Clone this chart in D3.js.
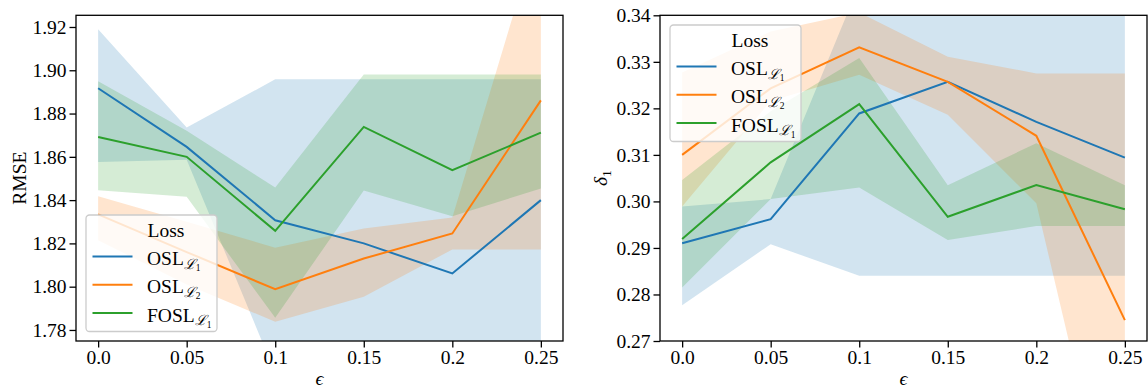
<!DOCTYPE html>
<html><head><meta charset="utf-8">
<script src="https://cdn.jsdelivr.net/npm/d3@7"></script>
<style>
body{margin:0;background:#fff}
svg{display:block}
text{font-family:"Liberation Serif","Times New Roman",serif;fill:#000}
</style>
</head><body>
<svg id="chart" width="1148" height="389"></svg>
<script>
// ---------- data ----------
const eps = [0, 0.05, 0.1, 0.15, 0.2, 0.25];
const xTickLabels = ["0.0", "0.05", "0.1", "0.15", "0.2", "0.25"];
const seriesBase = ["OSL", "OSL", "FOSL"];
const seriesSub = ["1", "2", "1"];
const colors = ["#1f77b4", "#ff7f0e", "#2ca02c"];

// Left panel: RMSE
const rmseTicks = [1.78, 1.80, 1.82, 1.84, 1.86, 1.88, 1.90, 1.92];
const rmseOSL1 = [1.8917, 1.8646, 1.8307, 1.8200, 1.8061, 1.8400];
const rmseOSL1Up = [1.9190, 1.8735, 1.8958, 1.8958, 1.8958, 1.8958];
const rmseOSL1Lo = [1.8576, 1.8587, 1.7600, 1.7450, 1.7160, 1.7600];
const rmseOSL2 = [1.8334, 1.8160, 1.7988, 1.8130, 1.8246, 1.8861];
const rmseOSL2Up = [1.8418, 1.8300, 1.8180, 1.8269, 1.8320, 1.9680];
const rmseOSL2Lo = [1.8215, 1.8010, 1.7838, 1.7953, 1.8172, 1.8172];
const rmseFOSL1 = [1.8692, 1.8600, 1.8258, 1.8738, 1.8538, 1.8712];
const rmseFOSL1Up = [1.8949, 1.8720, 1.8458, 1.8981, 1.8981, 1.8981];
const rmseFOSL1Lo = [1.8446, 1.8415, 1.7856, 1.8445, 1.8325, 1.8454];

// Right panel: delta_1
const deltaTicks = [0.27, 0.28, 0.29, 0.30, 0.31, 0.32, 0.33, 0.34];
const dOSL1 = [0.2910, 0.2962, 0.3189, 0.3257, 0.3171, 0.3094];
const dOSL1Up = [0.2989, 0.3005, 0.3466, 0.3500, 0.3500, 0.3500];
const dOSL1Lo = [0.2777, 0.2908, 0.2840, 0.2840, 0.2840, 0.2840];
const dOSL2 = [0.3100, 0.3243, 0.3331, 0.3257, 0.3141, 0.2745];
const dOSL2Up = [0.3277, 0.3365, 0.3406, 0.3311, 0.3275, 0.3275];
const dOSL2Lo = [0.2989, 0.3216, 0.3272, 0.3186, 0.2996, 0.2190];
const dFOSL1 = [0.2919, 0.3084, 0.3209, 0.2967, 0.3035, 0.2983];
const dFOSL1Up = [0.3046, 0.3194, 0.3308, 0.3035, 0.3125, 0.3035];
const dFOSL1Lo = [0.2815, 0.3005, 0.3030, 0.2917, 0.2947, 0.2947];

// ---------- drawing ----------
const svg = d3.select("#chart");
const FS = 19.5;
const plotTop = 15.3, plotBottom = 341;

const panels = [
  {id: "L", x0: 76, x1: 563, yDomain: [1.7749, 1.9254], ticks: rmseTicks, fmt: d3.format(".2f"),
   means: [rmseOSL1, rmseOSL2, rmseFOSL1], ups: [rmseOSL1Up, rmseOSL2Up, rmseFOSL1Up], los: [rmseOSL1Lo, rmseOSL2Lo, rmseFOSL1Lo],
   ylabel: "RMSE", ylabelX: 26, legend: {x: 86, y: 215}},
  {id: "R", x0: 660, x1: 1147, yDomain: [0.27, 0.34], ticks: deltaTicks, fmt: d3.format(".2f"),
   means: [dOSL1, dOSL2, dFOSL1], ups: [dOSL1Up, dOSL2Up, dFOSL1Up], los: [dOSL1Lo, dOSL2Lo, dFOSL1Lo],
   ylabel: "δ", ylabelSub: "1", ylabelX: 607, legend: {x: 670, y: 25}}
];

const defs = svg.append("defs");

panels.forEach(p => {
  const x = d3.scaleLinear().domain([-0.0125, 0.2625]).range([p.x0, p.x1]);
  const y = d3.scaleLinear().domain(p.yDomain).range([plotBottom, plotTop]);

  defs.append("clipPath").attr("id", "clip" + p.id)
    .append("rect").attr("x", p.x0).attr("y", plotTop).attr("width", p.x1 - p.x0).attr("height", plotBottom - plotTop);

  const plot = svg.append("g").attr("clip-path", `url(#clip${p.id})`);

  // bands
  p.means.forEach((m, s) => {
    const area = d3.area()
      .x((d, i) => x(eps[i]))
      .y0((d, i) => y(p.los[s][i]))
      .y1((d, i) => y(p.ups[s][i]));
    plot.append("path").datum(m).attr("d", area)
      .attr("fill", colors[s]).attr("fill-opacity", 0.2).attr("stroke", "none");
  });
  // lines
  p.means.forEach((m, s) => {
    const line = d3.line().x((d, i) => x(eps[i])).y(d => y(d));
    plot.append("path").datum(m).attr("d", line)
      .attr("fill", "none").attr("stroke", colors[s]).attr("stroke-width", 2).attr("stroke-linejoin", "miter");
  });

  // axes
  const xAxis = svg.append("g").attr("transform", `translate(0,${plotBottom})`)
    .call(d3.axisBottom(x).tickValues(eps).tickFormat((d, i) => xTickLabels[i]).tickSize(6.5).tickPadding(3).tickSizeOuter(0));
  const yAxis = svg.append("g").attr("transform", `translate(${p.x0},0)`)
    .call(d3.axisLeft(y).tickValues(p.ticks).tickFormat(p.fmt).tickSize(6.5).tickPadding(3).tickSizeOuter(0));
  [xAxis, yAxis].forEach(a => {
    a.attr("font-family", null).attr("font-size", null);
    a.select(".domain").remove();
    a.selectAll(".tick line").attr("stroke", "#000").attr("stroke-width", 1.3);
    a.selectAll(".tick text").style("font-size", FS + "px")
      .style("font-family", '"Liberation Serif","Times New Roman",serif').attr("fill", "#000");
  });

  // spines
  svg.append("rect").attr("x", p.x0).attr("y", plotTop).attr("width", p.x1 - p.x0).attr("height", plotBottom - plotTop)
    .attr("fill", "none").attr("stroke", "#000").attr("stroke-width", 1.3);

  // x label
  svg.append("text").attr("x", (p.x0 + p.x1) / 2).attr("y", 385).attr("text-anchor", "middle")
    .style("font-size", FS + "px").style("font-style", "italic").text("ϵ");

  // y label
  const yl = svg.append("text").attr("transform", `translate(${p.ylabelX},${(plotTop + plotBottom) / 2}) rotate(-90)`)
    .attr("text-anchor", "middle").style("font-size", FS + "px");
  yl.append("tspan").style("font-style", p.ylabelSub ? "italic" : "normal").text(p.ylabel);
  if (p.ylabelSub) yl.append("tspan").attr("dy", 4).style("font-size", "13.5px").text(p.ylabelSub);

  // legend
  const L = p.legend;
  const lg = svg.append("g");
  lg.append("rect").attr("x", L.x).attr("y", L.y).attr("width", 131).attr("height", 116.5)
    .attr("rx", 3.5).attr("fill", "#fff").attr("fill-opacity", 0.8).attr("stroke", "#cccccc").attr("stroke-width", 1.3);
  lg.append("text").attr("x", L.x + 61.5).attr("y", L.y + 22).style("font-size", FS + "px").text("Loss");
  seriesBase.forEach((b, s) => {
    const by = L.y + 50 + s * 28.3;
    lg.append("line").attr("x1", L.x + 6.5).attr("x2", L.x + 46.5).attr("y1", by - 8.5).attr("y2", by - 8.5)
      .attr("stroke", colors[s]).attr("stroke-width", 2);
    const t = lg.append("text").attr("x", L.x + 61).attr("y", by).style("font-size", FS + "px");
    t.append("tspan").text(b);
    t.append("tspan").attr("dy", 3.5).style("font-size", "14px").style("font-style", "italic").text("ℒ");
    t.append("tspan").attr("dy", 2.5).style("font-size", "9.5px").text(seriesSub[s]);
  });
});
</script>
</body></html>
